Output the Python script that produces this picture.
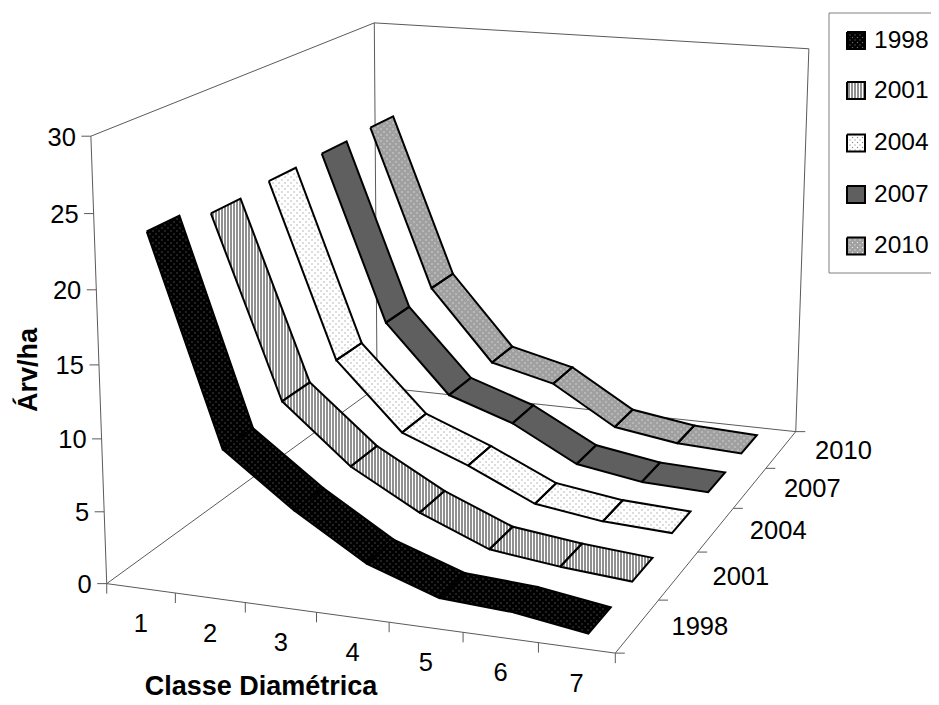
import numpy as np, pandas as pd, altair as alt

classes = [1, 2, 3, 4, 5, 6, 7]
years = [1998, 2001, 2004, 2007, 2010]
v1998 = [23.5, 9.4, 5.8, 2.8, 1.1, 0.8, 0.05]
v2001 = [22.6, 9.9, 5.8, 3.1, 1.1, 0.5, 0.1]
v2004 = [22.85, 10.2, 5.35, 3.45, 1.2, 0.5, 0.25]
v2007 = [22.95, 10.5, 5.4, 3.75, 1.15, 0.35, 0.15]
v2010 = [23.1, 10.8, 5.3, 4.1, 1.15, 0.4, 0.15]
series = [v1998, v2001, v2004, v2007, v2010]
z_ticks = [0, 5, 10, 15, 20, 25, 30]
base_colors = ["#000000", "#ffffff", "#ffffff", "#5f5f5f", "#a0a0a0"]
dot_colors = ["#6e6e6e", None, "#8c8c8c", None, "#ececec"]

# camera calibration of the 3-D box: (class, depth, value) -> picture position
cal = [((0,0,0),(107,583)),((7,0,0),(615,653)),((7,5,0),(796,432)),((0,5,0),(377,387)),((0,0,30),(91,136)),
       ((0,5,30),(374,23)),((7,5,30),(809,49)),((7,1,0),(658,601)),((7,2,0),(698,551)),((7,3,0),(733,508)),
       ((7,4,0),(766,468)),((1,0,0),(175,593)),((2,0,0),(245,603)),((3,0,0),(317,613)),((0,0,5),(104,512)),
       ((0,0,10),(102,439)),((0,0,15),(99,365)),((0,0,20),(97,290)),((0,0,25),(93,213))]
A, b = [], []
for (X, Y, Z), (u, v) in cal:
    A.append([X,Y,Z,1,0,0,0,0,-u*X,-u*Y,-u*Z]); b.append(u)
    A.append([0,0,0,0,X,Y,Z,1,-v*X,-v*Y,-v*Z]); b.append(v)
P = np.append(np.linalg.lstsq(np.array(A,float), np.array(b,float), rcond=None)[0], 1).reshape(3,4)

def proj(X, Y, Z):
    h = P @ np.array([X, Y, Z, 1.0])
    return float(h[0]/h[2]), float(h[1]/h[2])

W, H = 923, 693
XS = alt.Scale(domain=[8, 8+W], nice=False, zero=False)
YS = alt.Scale(domain=[8, 8+H], nice=False, zero=False, reverse=True)
ex = alt.X("x:Q", scale=XS, axis=None)
ey = alt.Y("y:Q", scale=YS, axis=None)

def yrange(quad, x):
    ys = []
    n = len(quad)
    for i in range(n):
        (x0, y0), (x1, y1) = quad[i], quad[(i+1) % n]
        if min(x0, x1) <= x <= max(x0, x1):
            if x1 == x0:
                ys += [y0, y1]
            else:
                ys.append(y0 + (y1-y0)*(x-x0)/(x1-x0))
    return min(ys), max(ys)

def fill_rows(quad, q):
    xs = sorted(set(p[0] for p in quad))
    rows = []
    for x in xs:
        lo, hi = yrange(quad, x)
        rows.append(dict(x=round(x,2), y=round(lo,2), y2=round(hi,2), q=q))
    return rows

def hatch_rows(quad):
    xs = [p[0] for p in quad]
    rows = []
    for x in np.arange(np.ceil(min(xs)/3)*3, max(xs), 3.0):
        lo, hi = yrange(quad, x)
        rows.append(dict(x=float(x), y=round(lo,2), y2=round(hi,2)))
    return rows

def dot_rows(quad, step):
    xs = [p[0] for p in quad]
    rows = []
    for x in np.arange(np.ceil(min(xs)/(step/2))*(step/2), max(xs), step/2):
        lo, hi = yrange(quad, x)
        col = int(round(x/(step/2)))
        off = step/2 if col % 2 else 0.0
        y = np.ceil((lo-off)/step)*step + off
        while y < hi:
            rows.append(dict(x=float(x), y=float(y)))
            y += step
    return rows

def paint(quads, idx, step=6.0, dot_size=1.5):
    """fill, pattern and outline of a set of quads in one series style"""
    frows, orows, hrows, drows = [], [], [], []
    for q, quad in enumerate(quads):
        frows += fill_rows(quad, q)
        for o, (x, y) in enumerate(quad + [quad[0]]):
            orows.append(dict(x=round(x,2), y=round(y,2), q=q, o=o))
        if idx == 1:
            hrows += hatch_rows(quad)
        elif dot_colors[idx]:
            drows += dot_rows(quad, step)
    out = [alt.Chart(pd.DataFrame(frows)).mark_area(color=base_colors[idx], strokeWidth=0).encode(
        x=ex, y=ey, y2="y2:Q", detail="q:N")]
    if hrows:
        out.append(alt.Chart(pd.DataFrame(hrows)).mark_rule(color="#222222", strokeWidth=1).encode(x=ex, y=ey, y2="y2:Q"))
    if drows:
        out.append(alt.Chart(pd.DataFrame(drows)).mark_square(color=dot_colors[idx], size=dot_size, opacity=1, strokeWidth=0).encode(x=ex, y=ey))
    out.append(alt.Chart(pd.DataFrame(orows)).mark_line(color="#000000", strokeWidth=2, strokeJoin="miter").encode(
        x=ex, y=ey, detail="q:N", order="o:Q"))
    return out

# box lines and ticks
segs = []
def seg(a, b):
    segs.append(dict(x=round(a[0],2), y=round(a[1],2), x2=round(b[0],2), y2=round(b[1],2)))
c000, c700, c750, c050 = proj(0,0,0), proj(7,0,0), proj(7,5,0), proj(0,5,0)
c003, c053, c753 = proj(0,0,30), proj(0,5,30), proj(7,5,30)
for a, b_ in [(c000,c700),(c700,c750),(c750,c050),(c050,c000),(c000,c003),(c003,c053),(c053,c050),(c053,c753),(c753,c750)]:
    seg(a, b_)
for z in z_ticks:
    p = proj(0,0,z); seg(p, (p[0]-9.5, p[1]))
for i in range(8):
    p = proj(i,0,0); seg(p, (p[0], p[1]+10))
for d in range(6):
    p = proj(7,d,0); seg(p, (p[0]+9.5, p[1]))
axes = alt.Chart(pd.DataFrame(segs)).mark_rule(color="#5a5a5a", strokeWidth=1).encode(
    x=ex, y=ey, x2="x2:Q", y2="y2:Q")

layers = [axes]
for k in range(4, -1, -1):
    quads = []
    for i in range(6):
        quads.append([proj(i+.5, k+.25, series[k][i]), proj(i+1.5, k+.25, series[k][i+1]),
                      proj(i+1.5, k+.75, series[k][i+1]), proj(i+.5, k+.75, series[k][i])])
    layers += paint(quads, k)

# tick labels
FONT = "Liberation Sans"
zl = pd.DataFrame([dict(x=proj(0,0,z)[0]-15, y=proj(0,0,z)[1]+1.5, t=str(z)) for z in z_ticks])
xl = pd.DataFrame([dict(x=proj(i+.5,0,0)[0], y=proj(i+.5,0,0)[1]+36, t=str(c)) for i, c in enumerate(classes)])
dl = pd.DataFrame([dict(x=proj(7,k+.5,0)[0]+34, y=proj(7,k+.5,0)[1]+1, t=str(yr)) for k, yr in enumerate(years)])
for df, al in [(zl,"right"),(xl,"center"),(dl,"left")]:
    layers.append(alt.Chart(df).mark_text(font=FONT, fontSize=25.5, align=al, baseline="middle", color="#000").encode(x=ex, y=ey, text="t:N"))
ltxt = pd.DataFrame([dict(x=874, y=yy, t=str(yr)) for yy, yr in zip([40.5, 90.5, 143, 194.5, 246], years)])
layers.append(alt.Chart(ltxt).mark_text(font=FONT, fontSize=24.5, align="left", baseline="middle", color="#000").encode(x=ex, y=ey, text="t:N"))

layers.append(alt.Chart(pd.DataFrame([dict(x=261, y=687, t="Classe Diamétrica")])).mark_text(
    font=FONT, fontSize=27, fontWeight="bold", align="center", baseline="middle", color="#000").encode(x=ex, y=ey, text="t:N"))
layers.append(alt.Chart(pd.DataFrame([dict(x=28.5, y=370, t="Árv/ha")])).mark_text(
    font=FONT, fontSize=27, fontWeight="bold", angle=270, align="center", baseline="middle", color="#000").encode(x=ex, y=ey, text="t:N"))

# legend
legend_box = pd.DataFrame([dict(x=829,y=13,x2=8+W,y2=13),dict(x=829,y=13,x2=829,y2=273),dict(x=829,y=273,x2=8+W,y2=273)])
layers.append(alt.Chart(legend_box).mark_rule(color="#808080", strokeWidth=1).encode(x=ex, y=ex if False else ey, x2="x2:Q", y2="y2:Q"))
for k, yy in enumerate([40.5, 90.5, 143, 194.5, 246]):
    s = 8.5
    quad = [(847.0, yy-s), (865.0, yy-s), (865.0, yy+s), (847.0, yy+s)]
    layers += paint([quad], k, step=5.0)

chart = alt.layer(*layers).properties(
    width=W, height=H, padding=0, autosize=alt.AutoSizeParams(type="none"), background="#ffffff"
).configure_view(stroke=None)
chart.save("out.html", embed_options={"renderer": "svg", "actions": False})
